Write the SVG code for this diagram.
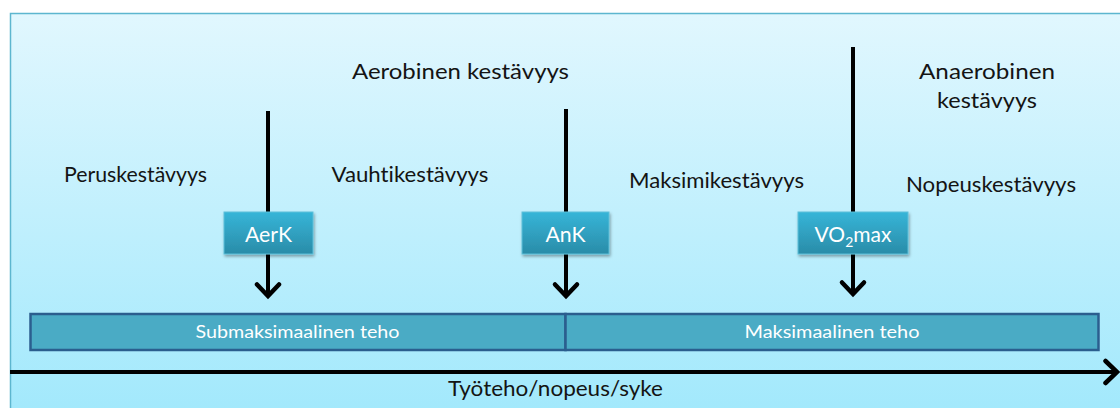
<svg xmlns="http://www.w3.org/2000/svg" width="1120" height="408" viewBox="0 0 1120 408">
<style>
text{font-variant-ligatures:none;font-feature-settings:"liga" 0}
.t{font-family:"Lato","Open Sans","Liberation Sans",sans-serif;fill:#141414;font-size:22px;text-anchor:middle}
.w{font-family:"Lato","Open Sans","Liberation Sans",sans-serif;fill:#ffffff;text-anchor:middle}
.conn{stroke:#000;stroke-width:4;fill:none}
.box{fill:url(#boxg);stroke:#5cbfd9;stroke-width:1;filter:url(#sh)}
.bar{fill:#4aabc5;stroke:#2b5e8e;stroke-width:2.5}
</style>
<defs>
<linearGradient id="bg" x1="0" y1="0" x2="0" y2="1">
<stop offset="0" stop-color="#e1f7fe"/>
<stop offset="1" stop-color="#9fe8fc"/>
</linearGradient>
<linearGradient id="boxg" x1="0" y1="0" x2="0" y2="1">
<stop offset="0" stop-color="#36b5d8"/>
<stop offset="1" stop-color="#2a8ca8"/>
</linearGradient>
<filter id="sh" x="-20%" y="-20%" width="140%" height="150%">
<feDropShadow dx="1" dy="2" stdDeviation="1.5" flood-color="#000" flood-opacity="0.35"/>
</filter>
<marker id="ah" markerUnits="userSpaceOnUse" markerWidth="30" markerHeight="30" viewBox="0 0 30 30" refX="21" refY="15" orient="auto">
<path d="M9.5,4 L21,15 L9.5,26" fill="none" stroke="#000" stroke-width="4.5" stroke-linecap="round" stroke-linejoin="miter"/>
</marker>
</defs>
<rect x="10.5" y="13.5" width="1130" height="420" fill="url(#bg)" stroke="#5db6cf" stroke-width="1.5"/>

<g id="connectors">
<line class="conn" x1="268" y1="111" x2="268" y2="296" marker-end="url(#ah)"/>
<line class="conn" x1="566" y1="109" x2="566" y2="296" marker-end="url(#ah)"/>
<line class="conn" x1="853" y1="47" x2="853" y2="294" marker-end="url(#ah)"/>
<line class="conn" x1="10" y1="372" x2="1117" y2="372" marker-end="url(#ah)"/>
</g>

<g id="labels">
<text class="t" x="460.5" y="79" textLength="217" lengthAdjust="spacingAndGlyphs">Aerobinen kestävyys</text>
<text class="t" x="135.5" y="182" textLength="143" lengthAdjust="spacingAndGlyphs">Peruskestävyys</text>
<text class="t" x="410" y="182" textLength="157" lengthAdjust="spacingAndGlyphs">Vauhtikestävyys</text>
<text class="t" x="716.5" y="188" textLength="175" lengthAdjust="spacingAndGlyphs">Maksimikestävyys</text>
<text class="t" x="987" y="79" textLength="136" lengthAdjust="spacingAndGlyphs">Anaerobinen</text>
<text class="t" x="987" y="108" textLength="100" lengthAdjust="spacingAndGlyphs">kestävyys</text>
<text class="t" x="991" y="192" textLength="170" lengthAdjust="spacingAndGlyphs">Nopeuskestävyys</text>
<text class="t" x="555.5" y="396" textLength="215" lengthAdjust="spacingAndGlyphs">Työteho/nopeus/syke</text>
</g>

<g id="aerk">
<rect class="box" x="224" y="212" width="89" height="42"/>
<text class="w" x="268.5" y="241.5" font-size="21" textLength="47" lengthAdjust="spacingAndGlyphs">AerK</text>
</g>
<g id="ank">
<rect class="box" x="522" y="212" width="87" height="42"/>
<text class="w" x="565.5" y="241.5" font-size="21" textLength="40" lengthAdjust="spacingAndGlyphs">AnK</text>
</g>
<g id="vo2max">
<rect class="box" x="798" y="212" width="110" height="42"/>
<text class="w" x="853" y="241.5" font-size="21">VO<tspan font-size="14" dy="5">2</tspan><tspan dy="-5">max</tspan></text>
</g>

<g id="submax">
<rect class="bar" x="30.5" y="314" width="535" height="36"/>
<text class="w" x="297.5" y="338" font-size="17" textLength="204" lengthAdjust="spacingAndGlyphs">Submaksimaalinen teho</text>
</g>
<g id="max">
<rect class="bar" x="565.5" y="314" width="533" height="36"/>
<text class="w" x="832" y="338" font-size="17" textLength="175" lengthAdjust="spacingAndGlyphs">Maksimaalinen teho</text>
</g>
</svg>
